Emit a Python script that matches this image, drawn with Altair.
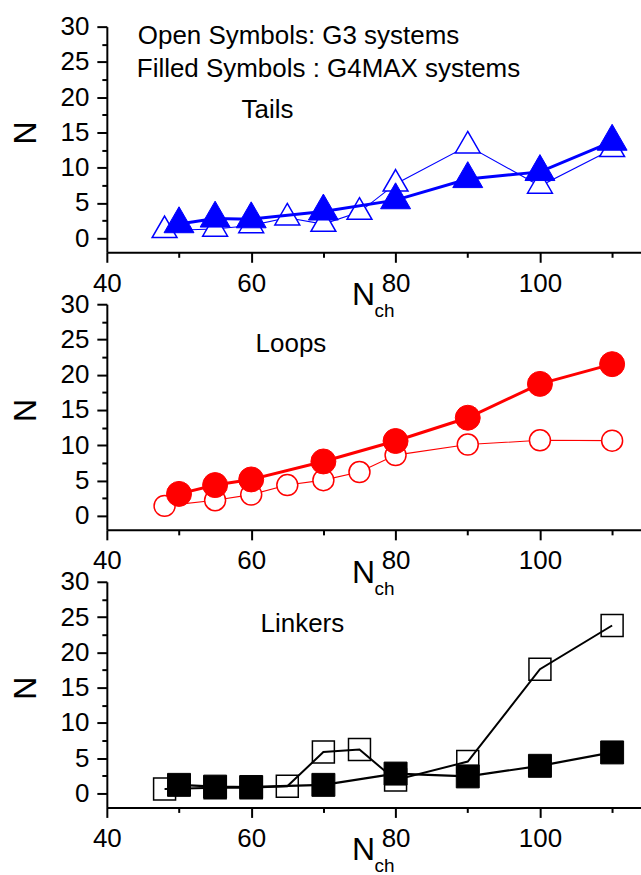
import altair as alt
import pandas as pd

# ---------------- data ----------------
x_g3 = [48, 55, 60, 65, 70, 75, 80, 90, 100, 110]
x_g4 = [50, 55, 60, 70, 80, 90, 100, 110]

tails_g3 = [1.1, 1.3, 1.8, 2.9, 2.0, 3.7, 7.7, 13.1, 7.4, 12.6]
tails_g4 = [2.0, 2.8, 2.7, 3.8, 5.4, 8.4, 9.4, 13.7]
loops_g3 = [1.4, 2.2, 3.0, 4.35, 5.05, 6.2, 8.6, 10.1, 10.7, 10.65]
loops_g4 = [3.1, 4.35, 5.15, 7.7, 10.6, 13.9, 18.7, 21.5]
linkers_g3 = [0.6, 0.8, 0.8, 1.0, 5.85, 6.2, 1.9, 4.5, 17.6, 23.8]
linkers_g4 = [1.2, 0.95, 0.9, 1.2, 2.8, 2.4, 3.9, 5.8]

panel_names = ["Tails", "Loops", "Linkers"]
note_lines = ["Open Symbols: G3 systems", "Filled Symbols : G4MAX systems"]
x_ticks = [40, 50, 60, 70, 80, 90, 100, 110]
y_ticks = [0, 2.5, 5, 7.5, 10, 12.5, 15, 17.5, 20, 22.5, 25, 27.5, 30]
x_title_main = "N"
x_title_sub = "ch"
y_title = "N"

FONT = "Liberation Sans"
W, H = 535, 226
TRI = "M0,-1.155L1,0.577L-1,0.577Z"

x_axis = alt.Axis(
    values=x_ticks,
    labelExpr="datum.value % 20 === 0 ? datum.label : ''",
    tickSize={"condition": {"test": "datum.value % 20 === 0", "value": 10}, "value": 5},
    title=None, grid=False, domainColor="black", domainWidth=2,
    tickColor="black", tickWidth=2, labelFont=FONT, labelFontSize=26,
    labelColor="black", labelPadding=8, labelFlush=False, labelOverlap=False,
)
y_axis = alt.Axis(
    values=y_ticks,
    labelExpr="datum.value % 5 === 0 ? datum.label : ''",
    tickSize={"condition": {"test": "datum.value % 5 === 0", "value": 10}, "value": 5},
    title=y_title, titleFont=FONT, titleFontSize=32, titleFontWeight="normal",
    titleColor="black", titleAngle=270, titleX=-81, titleY=106,
    titleAlign="center", titleBaseline="middle",
    grid=False, domainColor="black", domainWidth=2,
    tickColor="black", tickWidth=2, labelFont=FONT, labelFontSize=26,
    labelColor="black", labelPadding=8, labelFlush=False, labelOverlap=False,
)
xs = alt.Scale(domain=[40, 114], nice=False, zero=False)
ys = alt.Scale(domain=[-2, 30], nice=False, zero=False)


def enc(ch):
    return ch.encode(
        x=alt.X("x:Q", scale=xs, axis=x_axis),
        y=alt.Y("y:Q", scale=ys, axis=y_axis),
    )


def text_layer(txt, x, y, size, align="left"):
    return alt.Chart(pd.DataFrame({"t": [txt]})).mark_text(
        font=FONT, fontSize=size, color="black", align=align, baseline="alphabetic"
    ).encode(text="t:N", x=alt.value(x), y=alt.value(y))


def panel(g3, g4, color, shape_open, shape_fill, s_open, s_fill,
          w_thin, w_thick, open_fill, name, name_x, name_y, extra=None):
    d3 = pd.DataFrame({"x": x_g3, "y": g3})
    d4 = pd.DataFrame({"x": x_g4, "y": g4})
    layers = [
        enc(alt.Chart(d3).mark_line(color=color, strokeWidth=w_thin)),
        enc(alt.Chart(d3).mark_point(shape=shape_open, size=s_open, filled=True,
                                     fill=open_fill, stroke=color, strokeWidth=1.5,
                                     opacity=1)),
        enc(alt.Chart(d4).mark_line(color=color, strokeWidth=w_thick)),
        enc(alt.Chart(d4).mark_point(shape=shape_fill, size=s_fill, filled=True,
                                     fill=color, stroke=color, strokeWidth=1,
                                     opacity=1)),
        text_layer(name, name_x, name_y, 26),
        text_layer(x_title_main, 257, 279, 32, align="center"),
        text_layer(x_title_sub, 268, 291, 19),
    ]
    if extra:
        layers += extra
    return alt.layer(*layers).properties(width=W, height=H)


p1 = panel(tails_g3, tails_g4, "#0000ff", TRI, TRI, 620, 900, 1.1, 3,
           "white", panel_names[0], 135, 92,
           extra=[text_layer(note_lines[0], 31, 17, 26),
                  text_layer(note_lines[1], 30, 50, 26)])
p2 = panel(loops_g3, loops_g4, "#ff0000", "circle", "circle", 441, 625, 1.1, 3,
           "white", panel_names[1], 149, 48)
p3 = panel(linkers_g3, linkers_g4, "#000000", "square", "square", 484, 529, 2, 2.2,
           "transparent", panel_names[2], 154, 50)

chart = alt.vconcat(p1, p2, p3, spacing=52, bounds="flush").properties(
    padding={"left": 10, "top": 13, "right": 0, "bottom": 0},
    background="white",
).configure_view(stroke=None)

chart.save("out.html", embed_options={"renderer": "svg", "actions": False})
